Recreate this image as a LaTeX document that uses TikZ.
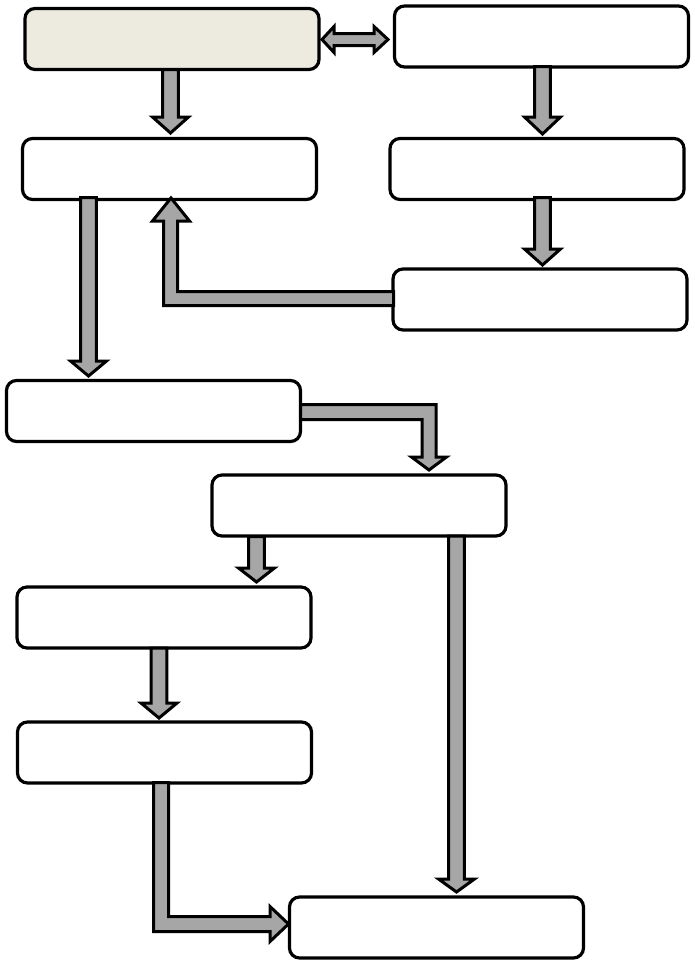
\documentclass[tikz,border=0pt]{standalone}
\usepackage{tikz}
\definecolor{boxfillA}{RGB}{237,235,224}
\definecolor{arrowgray}{RGB}{166,166,166}
\tikzset{
  flowbox/.style={draw=black, line width=3.2pt, rounded corners=10pt, fill=white,
    minimum width=294pt, minimum height=61pt, inner sep=0pt},
  blockarrow/.style={draw=black, line width=3pt, fill=arrowgray, line join=miter, miter limit=10}
}
\newcommand\downblock[4]{% x, ytop, ybase, ytip
  \draw[blockarrow] ({#1-7.8},#2) -- ({#1+7.8},#2) -- ({#1+7.8},#3) -- ({#1+18},#3)
    -- (#1,#4) -- ({#1-18},#3) -- ({#1-7.8},#3) -- cycle;}
\begin{document}
\begin{tikzpicture}[x=1pt,y=-1pt]
\useasboundingbox (0,0) rectangle (695,964);
% boxes
\node[flowbox, fill=boxfillA] (A) at (172,39) {};
\node[flowbox] (B) at (541.5,36.5) {};
\node[flowbox] (C) at (169.5,169) {};
\node[flowbox] (D) at (537,169) {};
\node[flowbox] (E) at (540,299.5) {};
\node[flowbox] (F) at (153.5,411) {};
\node[flowbox] (G) at (359,505.5) {};
\node[flowbox] (H) at (164,617.5) {};
\node[flowbox] (I) at (164.5,752.5) {};
\node[flowbox] (J) at (436.5,927.5) {};
% A <-> B
\draw[blockarrow] (322,39.5) -- (334,26.5) -- (334,33.5) -- (374,33.5) -- (374,26.5)
  -- (388,39.5) -- (374,52.5) -- (374,45.5) -- (334,45.5) -- (334,52.5) -- cycle;
% straight down arrows
\downblock{170.5}{69.5}{117}{133}   % A -> C
\downblock{542.5}{66.5}{117}{134}   % B -> D
\downblock{542.5}{197.5}{249}{265}  % D -> E
\downblock{88.5}{197.5}{361}{376}   % C -> F
\downblock{256.5}{536.5}{568}{582}  % G -> H
\downblock{456.5}{536}{879}{892}    % G -> J
\downblock{159}{648}{703}{718}      % H -> I
% E -> C (elbow, up)
\draw[blockarrow] (393.5,291.5) -- (177.5,291.5) -- (177.5,221) -- (189.5,221) -- (171,198)
  -- (152.5,221) -- (163.5,221) -- (163.5,305.5) -- (393.5,305.5) -- cycle;
% F -> G (elbow, down)
\draw[blockarrow] (300.5,404.5) -- (436,404.5) -- (436,457) -- (446.5,457) -- (429,470)
  -- (411.5,457) -- (422,457) -- (422,419.5) -- (300.5,419.5) -- cycle;
% I -> J (elbow, right)
\draw[blockarrow] (153.5,782.5) -- (168.5,782.5) -- (168.5,916.5) -- (270,916.5) -- (270,906.5)
  -- (288.5,924) -- (270,941.5) -- (270,931.5) -- (153.5,931.5) -- cycle;
\end{tikzpicture}
\end{document}
